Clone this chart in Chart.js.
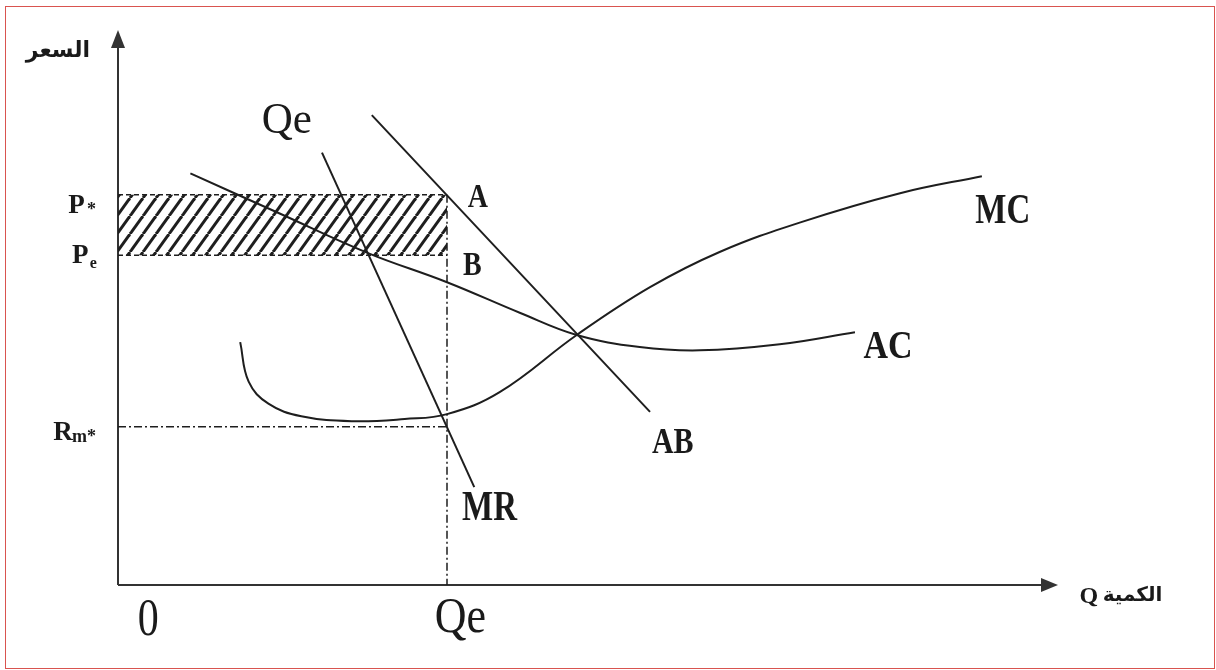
<!DOCTYPE html>
<html>
<head>
<meta charset="utf-8">
<script src="https://cdn.jsdelivr.net/npm/chart.js"></script>
<style>
  html, body { margin: 0; padding: 0; background: #fff; }
  #wrap { position: relative; width: 1216px; height: 670px; }
  #chart { display: block; }
  #frame { position: absolute; left: 5px; top: 6px; width: 1208px; height: 661px; border: 1px solid #d9534f; pointer-events: none; }
</style>
</head>
<body>
<div id="wrap">
  <canvas id="chart" width="1216" height="670"></canvas>
  <div id="frame"></div>
</div>
<script>
// quantity (x) and price (y) values, arbitrary units
const qe = 35;
const pStar = 71;
const pE = 60;
const rmStar = 28.8;

// AB (average revenue / demand) - straight line
const abQ = [27.0, 56.6];
const abP = [85.5, 31.5];

// MR - straight line
const mrQ = [21.7, 37.9];
const mrP = [78.7, 17.8];

// AC curve
const acQ = [7.7, 17.2, 26.6, 35.0, 42.8, 48.8, 55.5, 61.9, 70.4, 78.4];
const acP = [74.9, 67.6, 60.4, 55.1, 49.5, 45.5, 43.3, 42.7, 43.8, 46.0];

// MC curve
const mcQ = [13.0, 13.9, 16.0, 19.5, 25.0, 30.5, 35.0, 40.6, 48.8, 56.6, 64.0, 72.6, 83.2, 91.9];
const mcP = [44.2, 37.0, 33.0, 30.7, 29.8, 30.2, 31.1, 35.1, 45.5, 54.2, 60.6, 66.0, 71.3, 74.4];

const axisEndQ = 100;
const axisEndP = 101;

const ink = '#1e1e1e';
const serif = '"Liberation Serif", "DejaVu Serif", serif';
const arabic = '"DejaVu Sans", sans-serif';

// labels: text, position in data units, font, vertical stretch
const labels = [
  { text: 'السعر', q: -2.98, p: 96.1, font: 'bold 22px ' + arabic, align: 'right', rtl: true },
  { text: 'الكمية', q: 111.1, p: -2.9, font: 'bold 20px ' + arabic, align: 'right', rtl: true },
  { text: 'Q', q: 102.3, p: -3.3, font: 'bold 24px ' + serif },
  { text: 'P', q: -5.3, p: 67.7, font: 'bold 27px ' + serif },
  { text: '*', q: -3.3, p: 67.4, font: 'bold 18px ' + serif },
  { text: 'P', q: -4.9, p: 58.6, font: 'bold 27px ' + serif },
  { text: 'e', q: -3.0, p: 57.7, font: 'bold 16px ' + serif },
  { text: 'R', q: -6.9, p: 26.4, font: 'bold 27px ' + serif },
  { text: 'm*', q: -4.9, p: 26.0, font: 'bold 18px ' + serif },
  { text: '0', q: 2.1, p: -9.1, font: '42px ' + serif, sy: 1.25 },
  { text: 'Qe', q: 33.7, p: -8.55, font: '44px ' + serif, sy: 1.15 },
  { text: 'Qe', q: 15.3, p: 82.3, font: '43px ' + serif, sy: 1.05 },
  { text: 'A', q: 37.2, p: 68.8, font: 'bold 28px ' + serif, sy: 1.2 },
  { text: 'B', q: 36.7, p: 56.4, font: 'bold 28px ' + serif, sy: 1.2 },
  { text: 'AB', q: 56.8, p: 24.0, font: 'bold 30px ' + serif, sy: 1.2 },
  { text: 'MR', q: 36.6, p: 11.8, font: 'bold 33px ' + serif, sy: 1.25 },
  { text: 'AC', q: 79.3, p: 41.3, font: 'bold 34px ' + serif, sy: 1.2 },
  { text: 'MC', q: 91.2, p: 65.9, font: 'bold 33px ' + serif, sy: 1.25 }
];

function pts(xs, ys) {
  return xs.map((x, i) => ({ x: x, y: ys[i] }));
}

function makeHatch(ctx) {
  const c = document.createElement('canvas');
  c.width = 13;
  c.height = 18;
  const g = c.getContext('2d');
  g.strokeStyle = ink;
  g.lineWidth = 3;
  for (const off of [-13, 0, 13]) {
    g.beginPath();
    g.moveTo(off, 18);
    g.lineTo(off + 13, 0);
    g.stroke();
  }
  return ctx.createPattern(c, 'repeat');
}

const axesPlugin = {
  id: 'axes',
  beforeDatasetsDraw(chart) {
    const { ctx, scales: { x, y } } = chart;
    const x0 = x.getPixelForValue(0), y0 = y.getPixelForValue(0);
    const xe = x.getPixelForValue(axisEndQ), ye = y.getPixelForValue(axisEndP);
    ctx.save();
    ctx.strokeStyle = '#333';
    ctx.fillStyle = '#333';
    ctx.lineWidth = 2;
    ctx.beginPath();
    ctx.moveTo(x0, y0);
    ctx.lineTo(x0, ye + 14);
    ctx.moveTo(x0, y0);
    ctx.lineTo(xe - 14, y0);
    ctx.stroke();
    ctx.beginPath();
    ctx.moveTo(x0, ye);
    ctx.lineTo(x0 - 7, ye + 18);
    ctx.lineTo(x0 + 7, ye + 18);
    ctx.closePath();
    ctx.fill();
    ctx.beginPath();
    ctx.moveTo(xe, y0);
    ctx.lineTo(xe - 17, y0 - 7);
    ctx.lineTo(xe - 17, y0 + 7);
    ctx.closePath();
    ctx.fill();
    ctx.restore();
  },
  afterDraw(chart) {
    const { ctx, scales: { x, y } } = chart;
    labels.forEach(l => {
      ctx.save();
      ctx.font = l.font;
      ctx.fillStyle = '#1a1a1a';
      ctx.textAlign = l.align || 'left';
      ctx.textBaseline = 'alphabetic';
      if (l.rtl) ctx.direction = 'rtl';
      ctx.translate(x.getPixelForValue(l.q), y.getPixelForValue(l.p));
      ctx.scale(1, l.sy || 1);
      ctx.fillText(l.text, 0, 0);
      ctx.restore();
    });
  }
};

const canvas = document.getElementById('chart');
const ctx = canvas.getContext('2d');
const hatch = makeHatch(ctx);

const dashDot = [8, 3, 2, 3];

new Chart(ctx, {
  type: 'line',
  data: {
    datasets: [
      { data: pts([0, qe], [pStar, pStar]), borderColor: ink, borderWidth: 1.5, borderDash: [5, 3] },
      { data: pts([0, qe], [pE, pE]), borderColor: ink, borderWidth: 1.5, borderDash: [5, 3],
        fill: { target: { value: pStar } }, backgroundColor: hatch },
      { data: pts([qe, qe], [pStar, 0]), borderColor: ink, borderWidth: 1.5, borderDash: dashDot },
      { data: pts([0, qe], [rmStar, rmStar]), borderColor: ink, borderWidth: 1.5, borderDash: dashDot },
      { data: pts(abQ, abP), borderColor: ink, borderWidth: 2 },
      { data: pts(mrQ, mrP), borderColor: ink, borderWidth: 2 },
      { data: pts(acQ, acP), borderColor: ink, borderWidth: 2, tension: 0.4 },
      { data: pts(mcQ, mcP), borderColor: ink, borderWidth: 2, tension: 0.4 }
    ]
  },
  options: {
    responsive: false,
    animation: false,
    devicePixelRatio: 1,
    layout: { padding: { left: 118, right: 158, top: 30, bottom: 85 } },
    elements: { point: { radius: 0 }, line: { fill: false } },
    datasets: { line: { clip: false } },
    scales: {
      x: { type: 'linear', min: 0, max: axisEndQ, display: false },
      y: { type: 'linear', min: 0, max: axisEndP, display: false }
    },
    plugins: {
      legend: { display: false },
      tooltip: { enabled: false },
      title: { display: false }
    }
  },
  plugins: [axesPlugin]
});
</script>
</body>
</html>
